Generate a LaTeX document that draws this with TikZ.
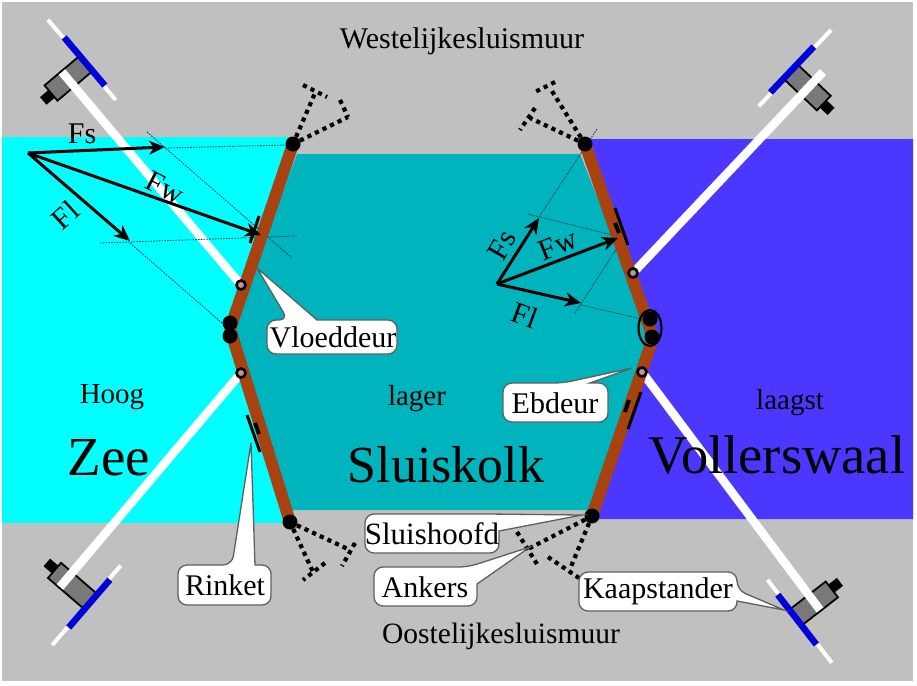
\documentclass[tikz,border=0pt]{standalone}
\usepackage{fontspec}
\setmainfont{Liberation Serif}
\usetikzlibrary{arrows.meta}
\definecolor{wall}{RGB}{192,192,192}
\definecolor{seawater}{RGB}{0,255,255}
\definecolor{kolkwater}{RGB}{0,180,190}
\definecolor{lowwater}{RGB}{75,55,255}
\definecolor{door}{RGB}{168,66,16}
\definecolor{drum}{RGB}{0,0,216}
\definecolor{forceline}{RGB}{35,65,85}
\definecolor{calloutline}{RGB}{95,95,95}
\newcommand{\fz}[1]{\fontsize{#1}{#1}\selectfont}
% capstan: centre x,y ; matrix a b c d ; blue bar offset ; body offset
\newcommand{\capstan}[8]{%
  \begin{scope}[cm={#3,#4,#5,#6,(#1,#2)}]
    \draw[white,line width=4] (-56,#7-1) -- (49,#7-1);
    \draw[black,line width=1.8,fill=gray!95!black] (-19,0) rectangle (1,#7);
    \draw[black,line width=1.8,fill=gray!95!black] (-19,-#8) rectangle (1,0);
    \fill[black] (-15,-#8) rectangle (-5,-#8-11);
    \draw[drum,line width=6.5] (-38,#7) -- (25,#7);
  \end{scope}}
\tikzset{
  x=1pt,y=-1pt,
  doorleaf/.style={door,line width=12,line cap=butt,line join=round},
  whitebar/.style={white,line width=8.5},
  anchorline/.style={black,line width=4.2,dash pattern=on 4.2pt off 4.2pt},
  forcearrow/.style={black,line width=3,-{Stealth[length=16pt,width=14pt,inset=5pt]}},
  thinline/.style={forceline,line width=0.9,dash pattern=on 1.6pt off 1.2pt},
  pivot/.style={circle,fill=black,inner sep=0pt,minimum size=15pt},
  ring/.style={circle,draw=black,line width=2.6,fill=wall!70!door,inner sep=0pt,minimum size=9pt},
  rinketline/.style={black,line width=3},
  callout/.style={draw=calloutline,line width=1.3,fill=white},
  calltext/.style={inner sep=0pt,text=black,font=\fz{30}},
  plaintext/.style={inner sep=0pt,text=black},
}
\begin{document}
\begin{tikzpicture}
\useasboundingbox (0,0) rectangle (917,685);
\fill[white] (0,0) rectangle (917,685);
\fill[wall] (2,2) rectangle (913,681);
\fill[seawater] (2,137) rectangle (293,523);
\fill[lowwater] (590,139) -- (913,139) -- (913,519) -- (592,519) -- (650,330) -- cycle;
\fill[kolkwater] (297,154) -- (580,154) -- (650,330) -- (592,510) -- (286,510) -- (230,335) -- cycle;

% door end points
\coordinate (cNW) at (293,144);
\coordinate (cSW) at (290,522);
\coordinate (cNE) at (585,144);
\coordinate (cSE) at (592,516);
\coordinate (kinkW) at (230,329);
\coordinate (kinkE) at (650,329);

% white bars
\coordinate (endNW) at (62,72);
\coordinate (endNE) at (823,72);
\coordinate (endSW) at (60,587);
\coordinate (endSE) at (820,610);
\coordinate (ringNW) at (241,285);
\coordinate (ringSW) at (241,373);
\coordinate (ringNE) at (633,273);
\coordinate (ringSE) at (642,372);

% capstans
\capstan{62}{72}{-.645}{.764}{-.764}{-.645}{24}{22}
\capstan{814}{81.4}{.689}{.726}{.726}{-.689}{24}{22}
\capstan{60}{587}{-.653}{-.758}{-.758}{.653}{33}{15}
\capstan{820}{610}{.613}{-.79}{.79}{.613}{24}{22}
\draw[whitebar] (ringNW) -- (endNW);
\draw[whitebar] (ringSW) -- (endSW);
\draw[whitebar] (ringNE) -- (endNE);
\draw[whitebar] (ringSE) -- (endSE);

% thin construction lines (left)
\draw[thinline] (147,132) -- (292,258);
\draw[thinline] (165,148) -- (287,145);
\draw[thinline] (100,243) -- (297,236);
\draw[thinline] (130,243) -- (222,323);
% thin construction lines (right)
\draw[thinline] (597,129) -- (539,217);
\draw[thinline] (528,214) -- (612,235);
\draw[thinline] (617,248) -- (575,313);
\draw[thinline] (581,305) -- (642,319);

% doors
\draw[doorleaf] (cNW) -- (kinkW) -- (cSW);
\draw[doorleaf] (cNE) -- (kinkE) -- (652,341) -- (cSE);
\node[pivot] (hingeNW) at (cNW) {};
\node[pivot] (hingeSW) at (cSW) {};
\node[pivot] (hingeNE) at (cNE) {};
\node[pivot] (hingeSE) at (cSE) {};
\node[pivot] (pivotW1) at (230,323) {};
\node[pivot] (pivotW2) at (230,336) {};
\node[pivot] (pivotE1) at (650,319) {};
\node[pivot] (pivotE2) at (652,337) {};
\draw[black,line width=2.2] (650,328) ellipse [x radius=11.5,y radius=18];
\node[ring] (rNW) at (ringNW) {};
\node[ring] (rSW) at (ringSW) {};
\node[ring] (rNE) at (ringNE) {};
\node[ring] (rSE) at (ringSE) {};

% rinket marks
\draw[rinketline] (259,216) -- (250,243);
\draw[rinketline] (247,415) -- (260,452);
\draw[rinketline,line width=4] (255,423) -- (259,434);
\draw[rinketline] (615,208) -- (628,245);
\draw[rinketline,line width=4] (615,223) -- (619,233);
\draw[rinketline] (641,392) -- (628,429);
\draw[rinketline,line width=4] (629,400) -- (625,412);

% anchors
\draw[anchorline] (hingeNW) -- (315,93);
\draw[anchorline] (303,85) -- (327,97);
\draw[anchorline] (hingeNW) -- (348,117);
\draw[anchorline] (340,100) -- (348,117);
\draw[anchorline] (hingeNE) -- (550,88);
\draw[anchorline] (555,82) -- (533,93);
\draw[anchorline] (hingeNE) -- (530,118);
\draw[anchorline] (535,108) -- (520,130);
\draw[anchorline] (hingeSW) -- (350,550);
\draw[anchorline] (355,543) -- (342,566);
\draw[anchorline] (hingeSW) -- (313,572);
\draw[anchorline] (325,563) -- (303,580);
\draw[anchorline] (hingeSE) -- (528,549);
\draw[anchorline] (517,532) -- (537,564);
\draw[anchorline] (hingeSE) -- (570,569);
\draw[anchorline] (548,557) -- (579,578);

% forces
\coordinate (oW) at (28,153);
\coordinate (fsW) at (165,147);
\coordinate (fwW) at (261,235);
\coordinate (flW) at (130,241);
\draw[forcearrow] (oW) -- (fsW);
\draw[forcearrow] (oW) -- (fwW);
\draw[forcearrow] (oW) -- (flW);
\coordinate (oE) at (497,284);
\coordinate (fsE) at (539,218);
\coordinate (fwE) at (618,238);
\coordinate (flE) at (581,303);
\draw[forcearrow] (oE) -- (fsE);
\draw[forcearrow] (oE) -- (fwE);
\draw[forcearrow] (oE) -- (flE);
\node[plaintext,font=\fz{30}] (lFsW) at (82,134) {Fs};
\node[plaintext,font=\fz{30},rotate=-27] (lFwW) at (165,188) {Fw};
\node[plaintext,font=\fz{30},rotate=42] (lFlW) at (65,215) {Fl};
\node[plaintext,font=\fz{30},rotate=60] (lFsE) at (502,245) {Fs};
\node[plaintext,font=\fz{30},rotate=22] (lFwE) at (558,245) {Fw};
\node[plaintext,font=\fz{30},rotate=-20] (lFlE) at (525,315) {Fl};

% callouts
\draw[callout,rounded corners=9] (288,320) [sharp corners] -- (257,268) -- (317,320) [rounded corners=9] -- (397,320) -- (397,354) -- (267,354) -- (267,320) -- cycle;
\node[calltext] (vloeddeur) at (333,337) {Vloeddeur};
\draw[callout,rounded corners=9] (232,565) [sharp corners] -- (251,443) -- (255,565) [rounded corners=9] -- (271,565) -- (271,605) -- (178,605) -- (178,565) -- cycle;
\node[calltext] (rinket) at (225,585) {Rinket};
\draw[callout,rounded corners=9] (563,383) [sharp corners] -- (632,368) -- (590,383) [rounded corners=9] -- (608,383) -- (608,422) -- (503,422) -- (503,383) -- cycle;
\node[calltext] (ebdeur) at (555,403) {Ebdeur};
\draw[callout,rounded corners=9] (488,514) [sharp corners] -- (582,515) -- (499,531) [rounded corners=9] -- (499,553) -- (365,553) -- (365,514) -- cycle;
\node[calltext,font=\fz{31}] (sluishoofd) at (432,534) {Sluishoofd};
\draw[callout,rounded corners=9] (468,567) [sharp corners] -- (530,547) -- (477,584) [rounded corners=9] -- (477,606) -- (374,606) -- (374,567) -- cycle;
\node[calltext] (ankers) at (425,587) {Ankers};
\draw[callout,rounded corners=9] (737,590) [sharp corners] -- (784,610) -- (737,601) [rounded corners=9] -- (737,611) -- (579,611) -- (579,572) -- (737,572) -- cycle;
\node[calltext] (kaapstander) at (658,591) {Kaapstander};

% texts
\node[plaintext,font=\fz{30}] (west) at (462,41) {Westelijkesluismuur};
\node[plaintext,font=\fz{29.5}] (oost) at (501,636) {Oostelijkesluismuur};
\node[plaintext,font=\fz{29}] (hoog) at (112,397) {Hoog};
\node[plaintext,font=\fz{55}] (zee) at (109,458) {Zee};
\node[plaintext,font=\fz{29}] (lager) at (417,399) {lager};
\node[plaintext,font=\fz{52}] (sluiskolk) at (446,465) {Sluiskolk};
\node[plaintext,font=\fz{29}] (laagst) at (790,403) {laagst};
\node[plaintext,font=\fz{54.5}] (vollers) at (777,455) {Vollerswaal};
\end{tikzpicture}
\end{document}
